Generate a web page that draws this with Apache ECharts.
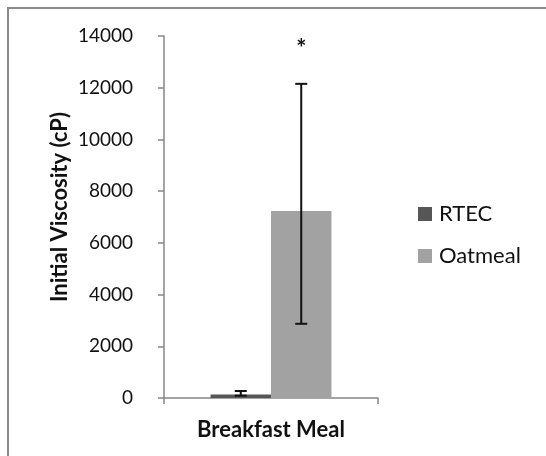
<!DOCTYPE html>
<html>
<head>
<meta charset="utf-8">
<script src="https://cdn.jsdelivr.net/npm/echarts@6/dist/echarts.min.js"></script>
<style>
  html, body { margin: 0; padding: 0; background: #fff; }
  #chart { width: 546px; height: 456px; }
</style>
</head>
<body>
<div id="chart"></div>
<script>
// ---- data ----
var categories = ['Breakfast Meal'];
var seriesNames = ['RTEC', 'Oatmeal'];
var rtecMean = [140];
var oatmealMean = [7230];
var errLow = [90, 2870];     // lower error-bar ends, per series
var errHigh = [270, 12150];  // upper error-bar ends, per series
var sigLabels = ['', '*'];
var sigValues = [null, 13500];
var yTicks = { min: 0, max: 14000, interval: 2000 };

// ---- build ----
var FONT = 'Lato';
var CAT_GAP = 0.435;
var barColors = ['#565656', '#a2a2a2'];
var meanSets = [rtecMean, oatmealMean];

var barSeries = seriesNames.map(function (name, i) {
  return {
    name: name,
    type: 'bar',
    data: meanSets[i],
    barGap: '0%',
    barCategoryGap: (CAT_GAP * 100) + '%',
    itemStyle: { color: barColors[i] },
    z: 2
  };
});

var errData = seriesNames.map(function (n, i) {
  return [0, errLow[i], errHigh[i], i];
});
var sigData = seriesNames.map(function (n, i) {
  return [0, sigValues[i], i];
});

function barCenterX(api, cat, sIdx) {
  var c = api.coord([cat, 0])[0];
  var bandW = api.size([1, 0])[0];
  var bw = bandW * (1 - CAT_GAP) / seriesNames.length;
  return c - bw * seriesNames.length / 2 + bw * (sIdx + 0.5);
}

var errorSeries = {
  type: 'custom',
  name: 'err',
  data: errData,
  z: 5,
  renderItem: function (params, api) {
    var cat = api.value(0), lo = api.value(1), hi = api.value(2), s = api.value(3);
    var x = barCenterX(api, cat, s);
    var yLo = api.coord([cat, lo])[1];
    var yHi = api.coord([cat, hi])[1];
    var cap = 6;
    var style = { stroke: '#111', lineWidth: 2 };
    return {
      type: 'group',
      children: [
        { type: 'line', shape: { x1: x, y1: yLo, x2: x, y2: yHi }, style: style },
        { type: 'line', shape: { x1: x - cap, y1: yLo, x2: x + cap, y2: yLo }, style: style },
        { type: 'line', shape: { x1: x - cap, y1: yHi, x2: x + cap, y2: yHi }, style: style }
      ]
    };
  }
};

var sigSeries = {
  type: 'custom',
  name: 'sig',
  data: sigData,
  z: 6,
  renderItem: function (params, api) {
    var s = api.value(2);
    var v = sigValues[s];
    if (v == null || !sigLabels[s]) return null;
    var x = barCenterX(api, api.value(0), s);
    var y = api.coord([api.value(0), v])[1];
    return {
      type: 'text',
      style: {
        x: x, y: y, text: sigLabels[s],
        font: 'bold 24px ' + FONT,
        fill: '#111', align: 'center', verticalAlign: 'middle'
      }
    };
  }
};

var chart = echarts.init(document.getElementById('chart'), null, { renderer: 'canvas' });
chart.setOption({
  animation: false,
  backgroundColor: '#fff',
  textStyle: { fontFamily: FONT },
  graphic: [{
    type: 'rect',
    shape: { x: 8, y: 8, width: 560, height: 470 },
    style: { fill: 'none', stroke: '#8a8a8a', lineWidth: 2 },
    silent: true
  }],
  grid: { left: 164, right: 168, top: 36, bottom: 58 },
  legend: {
    data: seriesNames,
    orient: 'vertical',
    left: 413,
    top: 198,
    itemWidth: 14,
    itemHeight: 14,
    itemGap: 20,
    icon: 'rect',
    textStyle: { fontFamily: FONT, fontSize: 22, color: '#111', padding: [0, 0, 0, 2] }
  },
  xAxis: {
    type: 'category',
    data: categories,
    axisLine: { show: true, lineStyle: { color: '#868686', width: 1.5 } },
    axisTick: { show: true, length: 6, lineStyle: { color: '#868686', width: 1.5 } },
    axisLabel: { show: true, margin: 21, fontFamily: FONT, fontSize: 22, fontWeight: 'bold', color: '#111' },
    splitLine: { show: false }
  },
  yAxis: {
    type: 'value',
    min: yTicks.min, max: yTicks.max, interval: yTicks.interval,
    name: 'Initial Viscosity (cP)',
    nameLocation: 'middle',
    nameGap: 93,
    nameTextStyle: { fontFamily: FONT, fontSize: 22, fontWeight: 'bold', color: '#111', padding: [0, 0, 0, 20] },
    axisLine: { show: true, lineStyle: { color: '#868686', width: 1.5 } },
    axisTick: { show: true, length: 6, lineStyle: { color: '#868686', width: 1.5 } },
    axisLabel: {
      margin: 31, fontFamily: FONT, fontSize: 19, color: '#111',
      formatter: function (v) { return String(v); }
    },
    splitLine: { show: false }
  },
  series: barSeries.concat([errorSeries, sigSeries])
});
</script>
</body>
</html>
